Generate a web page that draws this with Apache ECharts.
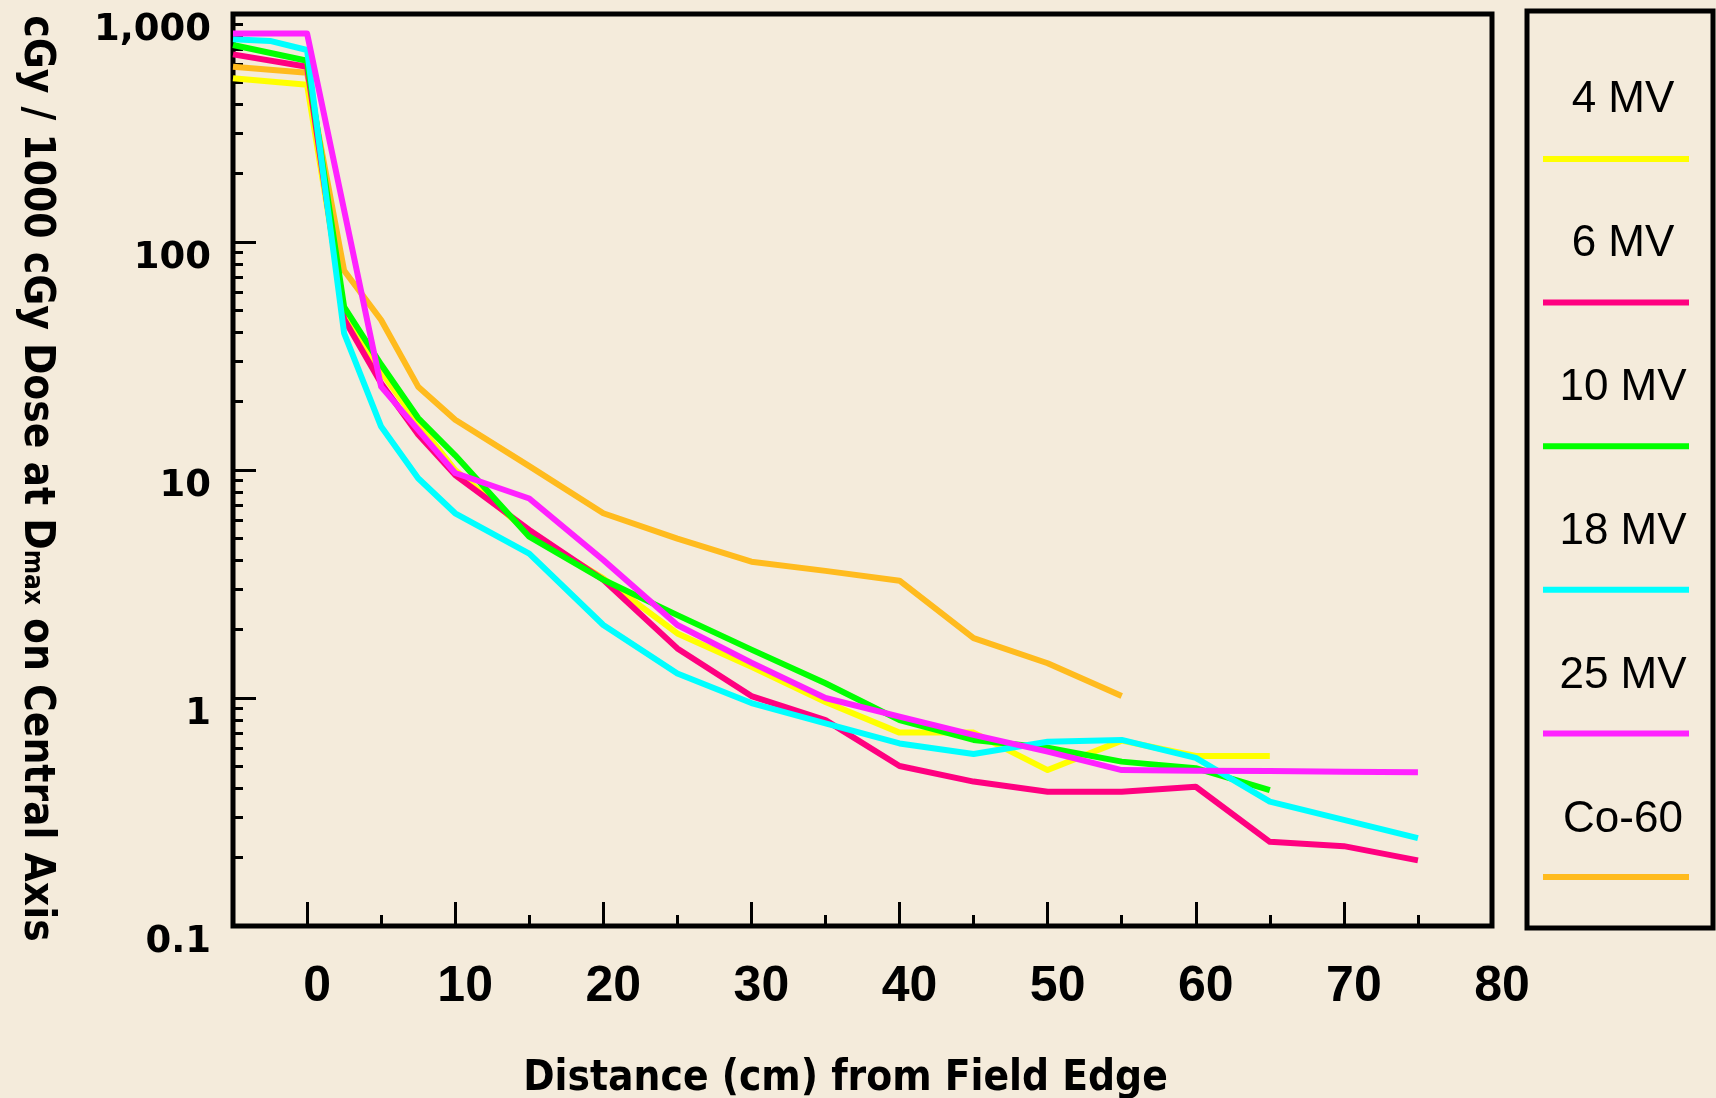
<!DOCTYPE html>
<html>
<head>
<meta charset="utf-8">
<title>Peripheral dose vs distance from field edge</title>
<style>
  html, body { margin: 0; padding: 0; background: #F4EBDB; }
  #chart { width: 1716px; height: 1098px; }
</style>
</head>
<body>
<div id="chart"></div>
<script src="https://cdn.jsdelivr.net/npm/echarts@6/dist/echarts.min.js"></script>
<script>
// distance from field edge (cm) - shared x positions, null = no point for that beam
const distances = [-5, -2.5, 0, 2.5, 5, 7.5, 10, 15, 20, 25, 30, 35, 40, 45, 50, 55, 60, 65, 70, 75];

// cGy per 1000 cGy at Dmax
const mv4  = [523, null, 489, 50, 27, 16, 10, 5.3, 3.35, 1.92, 1.37, 0.96, 0.705, 0.705, 0.483, 0.65, 0.557, 0.557, null, null];
const mv6  = [665, null, 587, 46, 24, 14.3, 9.5, 5.46, 3.3, 1.65, 1.02, 0.8, 0.503, 0.43, 0.388, 0.388, 0.408, 0.234, 0.224, 0.194];
const mv10 = [731, null, 624, 52, 29, 16.9, 11.6, 5.1, 3.3, 2.31, 1.63, 1.16, 0.8, 0.655, 0.605, 0.526, 0.492, 0.394, null, null];
const mv18 = [774, 762, 695, 39.8, 15.5, 9.2, 6.46, 4.3, 2.09, 1.28, 0.95, 0.774, 0.632, 0.568, 0.643, 0.655, 0.546, 0.351, 0.292, 0.243];
const mv25 = [822, null, 822, null, 23.2, 15.0, 9.7, 7.5, 4.03, 2.09, 1.43, 1.0, 0.828, 0.689, 0.582, 0.483, 0.48, 0.478, 0.475, 0.472];
const co60 = [587, null, 553, 75, 45.5, 23.2, 16.6, 10.4, 6.46, 5.0, 3.96, 3.61, 3.27, 1.83, 1.42, 1.02, null, null, null, null];

const seriesNames = ['4 MV', '6 MV', '10 MV', '18 MV', '25 MV', 'Co-60'];
const seriesColors = ['#FFFF00', '#FF0080', '#00FF00', '#00FFFF', '#FF22FF', '#FFBB1E'];
const seriesValues = [mv4, mv6, mv10, mv18, mv25, co60];

const xTickLabels = [0, 10, 20, 30, 40, 50, 60, 70, 80];
const xMajorTicks = [0, 10, 20, 30, 40, 50, 60, 70];
const xMinorTicks = [5, 15, 25, 35, 45, 55, 65, 75];
const yTickLabels = ['0.1', '1', '10', '100', '1,000'];
const yMinorTicks = [0.2, 0.3, 0.4, 0.5, 0.6, 0.7, 0.8, 0.9,
                     2, 3, 4, 5, 6, 7, 8, 9,
                     20, 30, 40, 50, 60, 70, 80, 90,
                     200, 300, 400, 500, 600, 700, 800, 900];

const sans = "'Liberation Sans', Arial, Helvetica, sans-serif";
const narrow = "'DejaVu Sans Condensed', 'Liberation Sans', Arial, sans-serif";

const chart = echarts.init(document.getElementById('chart'));

// legend drawn as a boxed column: name above a coloured line
const legendGraphics = [{
  type: 'rect',
  shape: { x: 1527, y: 11, width: 186, height: 917 },
  style: { fill: 'none', stroke: '#000', lineWidth: 5 }
}];
seriesNames.forEach(function (name, i) {
  legendGraphics.push({
    type: 'text',
    x: 1623,
    y: 100 + i * 144,
    style: {
      text: name,
      font: 'normal 44px ' + sans,
      fill: '#000',
      align: 'center', verticalAlign: 'middle',
      textAlign: 'center', textVerticalAlign: 'middle'
    }
  });
  legendGraphics.push({
    type: 'line',
    shape: { x1: 1543, y1: 159 + i * 143.6, x2: 1689, y2: 159 + i * 143.6 },
    style: { stroke: seriesColors[i], lineWidth: 6 }
  });
});

const series = seriesNames.map(function (name, i) {
  return {
    name: name,
    type: 'line',
    data: distances
      .map(function (d, j) { return [d, seriesValues[i][j]]; })
      .filter(function (p) { return p[1] != null; }),
    symbol: 'none',
    z: name === 'Co-60' ? 2 : 3,
    lineStyle: { width: 6, color: seriesColors[i], join: 'round' },
    itemStyle: { color: seriesColors[i] },
    emphasis: { disabled: true }
  };
});

const option = {
  backgroundColor: '#F4EBDB',
  animation: false,
  grid: {
    left: 233, right: 224, top: 14, bottom: 172,
    outerBoundsMode: 'none',
    containLabel: false,
    show: true, borderColor: '#000', borderWidth: 5, backgroundColor: 'transparent'
  },
  xAxis: [
    {
      type: 'value',
      min: -5, max: 80,
      position: 'bottom',
      name: 'Distance (cm) from Field Edge',
      nameLocation: 'middle',
      nameGap: 132,
      nameTextStyle: {
        fontFamily: narrow, fontWeight: 'bold', fontSize: 42, color: '#000',
        padding: [0, 34, 0, 0]
      },
      axisLine: { show: false, onZero: false },
      splitLine: { show: false },
      axisTick: {
        inside: true, length: 24, customValues: xMajorTicks,
        lineStyle: { color: '#000', width: 3 }
      },
      axisLabel: {
        customValues: xTickLabels,
        fontFamily: sans, fontWeight: 'bold', fontSize: 50, color: '#000',
        margin: 36, padding: [0, 0, 0, 20]
      }
    },
    {
      type: 'value',
      min: -5, max: 80,
      position: 'bottom',
      axisLine: { show: false, onZero: false },
      splitLine: { show: false },
      axisLabel: { show: false },
      axisTick: {
        inside: true, length: 11, customValues: xMinorTicks,
        lineStyle: { color: '#000', width: 3 }
      }
    }
  ],
  yAxis: [
    {
      type: 'log',
      logBase: 10,
      min: 0.1, max: 1000,
      position: 'left',
      name: '{a|cGy / 1000 cGy Dose at D}{b|max}{a| on Central Axis}',
      nameLocation: 'middle',
      nameRotate: -90,
      nameGap: 176,
      nameTextStyle: {
        fontFamily: narrow, fontWeight: 'bold', fontSize: 42, color: '#000',
        padding: [0, 0, 0, 17],
        rich: {
          a: { fontFamily: narrow, fontWeight: 'bold', fontSize: 42, color: '#000', lineHeight: 42 },
          b: { fontFamily: narrow, fontWeight: 'bold', fontSize: 26, color: '#000', lineHeight: 26, padding: [8, 0, 0, 0] }
        }
      },
      axisLine: { show: false, onZero: false },
      splitLine: { show: false },
      axisTick: { inside: true, length: 23, lineStyle: { color: '#000', width: 3 } },
      axisLabel: {
        fontFamily: "'DejaVu Sans', Verdana, sans-serif", fontWeight: 'bold', fontSize: 37, color: '#000',
        margin: 22, verticalAlign: 'top', lineHeight: 32,
        formatter: function (v) { return yTickLabels[Math.round(Math.log10(v)) + 1]; }
      }
    },
    {
      // minor ticks of the log axis, placed on a log10 value scale
      type: 'value',
      min: -1, max: 3,
      position: 'left',
      axisLine: { show: false, onZero: false },
      splitLine: { show: false },
      axisLabel: { show: false },
      axisTick: {
        inside: true, length: 10,
        customValues: yMinorTicks.map(function (v) { return Math.log10(v); }),
        lineStyle: { color: '#000', width: 3 }
      }
    }
  ],
  graphic: legendGraphics,
  series: series
};

chart.setOption(option);
</script>
</body>
</html>
